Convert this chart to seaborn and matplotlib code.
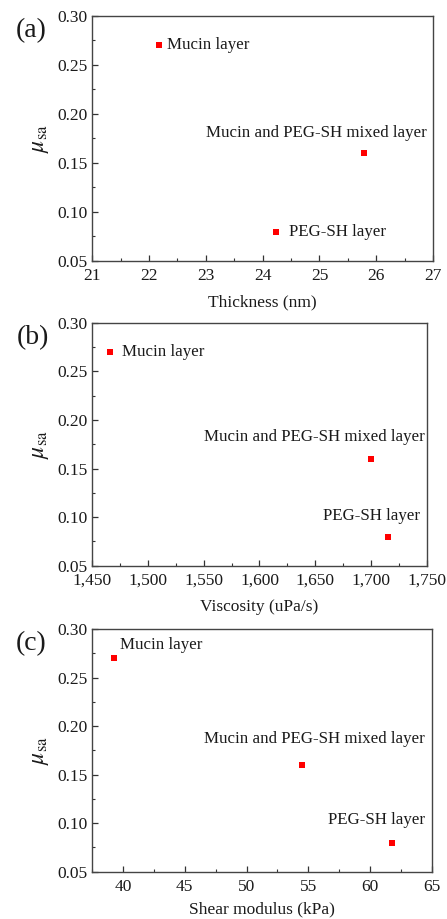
import numpy as np
import pandas as pd
import seaborn as sns
import matplotlib.pyplot as plt
from matplotlib.ticker import MultipleLocator, FuncFormatter

# data
layers = ['Mucin layer', 'Mucin and PEG-SH mixed layer', 'PEG-SH layer']
mu_sa = [0.27, 0.16, 0.08]
thickness = [22.18, 25.78, 24.24]       # nm
viscosity = [1466, 1700, 1715]          # uPa/s
shear_modulus = [39.3, 54.5, 61.8]      # kPa

sns.set_style('ticks')
plt.rcParams['font.family'] = ['Liberation Serif', 'DejaVu Serif']
plt.rcParams['mathtext.fontset'] = 'stix'
plt.rcParams['xtick.direction'] = 'in'
plt.rcParams['ytick.direction'] = 'in'

fig = plt.figure(figsize=(4.47, 9.19), dpi=100)

panels = [
    dict(x=thickness, xlabel='Thickness (nm)', xlim=(21, 27), major=1, minor=0.5,
         fmt=lambda v, p: f'{v:.0f}', tag='(a)', lpad=7.5,
         rect=[0.206, 0.716, 0.763, 0.2666],
         offs=[((6, 0), 'left'), ((-34, 14.5), 'center'), ((9, 0), 'left')]),
    dict(x=viscosity, xlabel='Viscosity (uPa/s)', xlim=(1450, 1750), major=50, minor=25,
         fmt=lambda v, p: f'{v:,.0f}', tag='(b)', lpad=7.5,
         rect=[0.206, 0.3844, 0.749, 0.2644],
         offs=[((9, 0), 'left'), ((-41, 16), 'center'), ((-12, 14.5), 'center')]),
    dict(x=shear_modulus, xlabel='Shear modulus (kPa)', xlim=(37.5, 65), major=5, minor=2.5,
         fmt=lambda v, p: f'{v:.0f}', tag='(c)', lpad=5,
         rect=[0.206, 0.0515, 0.760, 0.2641],
         offs=[((4, 9.5), 'left'), ((8.5, 18.5), 'center'), ((-11, 16.5), 'center')]),
]

for pnl in panels:
    ax = fig.add_axes(pnl['rect'])
    df = pd.DataFrame({'x': pnl['x'], 'mu': mu_sa, 'layer': layers})
    sns.scatterplot(data=df, x='x', y='mu', ax=ax, color='#ff0000', marker='s',
                    s=17, linewidth=0, zorder=3)
    for i, row in df.iterrows():
        off, ha = pnl['offs'][i]
        ax.annotate(row['layer'], (row['x'], row['mu']), xytext=off,
                    textcoords='offset points', ha=ha, va='center',
                    fontsize=12.2, color='#1a1a1a')
    ax.set_xlim(*pnl['xlim'])
    ax.set_ylim(0.05, 0.30)
    ax.xaxis.set_major_locator(MultipleLocator(pnl['major']))
    ax.xaxis.set_minor_locator(MultipleLocator(pnl['minor']))
    ax.xaxis.set_major_formatter(FuncFormatter(pnl['fmt']))
    ax.yaxis.set_major_locator(MultipleLocator(0.05))
    ax.yaxis.set_minor_locator(MultipleLocator(0.025))
    ax.yaxis.set_major_formatter(FuncFormatter(lambda v, p: f'{v:.2f}'))
    ax.tick_params(which='major', length=4, width=0.9, labelsize=12.5,
                   colors='#333333', labelcolor='#1a1a1a')
    ax.tick_params(which='minor', length=2.5, width=0.8, colors='#333333')
    ax.tick_params(axis='x', which='major', pad=5)
    ax.tick_params(axis='y', which='major', pad=3)
    for sp in ax.spines.values():
        sp.set_visible(True)
        sp.set_color('#444444')
        sp.set_linewidth(1.0)
    ax.set_xlabel(pnl['xlabel'], fontsize=12.5, color='#1a1a1a', labelpad=pnl['lpad'])
    ax.set_ylabel(r'$\mu_{\rm sa}$', fontsize=17, color='#1a1a1a', labelpad=5)
    ax.text(-0.225, 0.94, pnl['tag'], transform=ax.transAxes, fontsize=20,
            ha='left', va='center', color='#1a1a1a')

fig.savefig('out.png', dpi=100)
